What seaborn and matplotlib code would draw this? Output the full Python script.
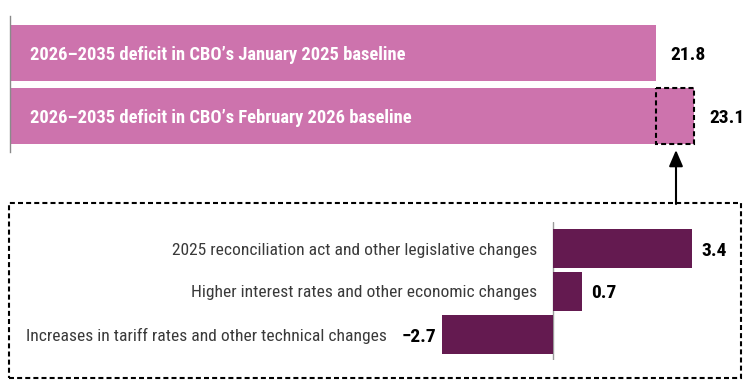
import matplotlib
matplotlib.use("Agg")
import matplotlib.pyplot as plt
from matplotlib.patches import Rectangle, FancyArrowPatch
import seaborn as sns
import pandas as pd

# ---- data ----
top_labels = ["2026\u20132035 deficit in CBO\u2019s January 2025 baseline",
              "2026\u20132035 deficit in CBO\u2019s February 2026 baseline"]
top_values = [21.8, 23.1]
top_value_text = ["21.8", "23.1"]

bot_labels = ["2025 reconciliation act and other legislative changes",
              "Higher interest rates and other economic changes",
              "Increases in tariff rates and other technical changes"]
bot_values = [3.4, 0.7, -2.7]
bot_value_text = ["3.4", "0.7", "\u22122.7"]

PINK = "#CD73AD"
PURPLE = "#641A50"

sns.set_style("white")
plt.rcParams["font.family"] = ["Roboto Condensed", "DejaVu Sans"]

W, H = 750, 389
fig = plt.figure(figsize=(W / 100, H / 100), dpi=100)


def fr(x0, y0, x1, y1):
    return [x0 / W, 1 - y1 / H, (x1 - x0) / W, (y1 - y0) / H]


FS_IN = 13.3    # in-bar labels
FS_LAB = 12.6   # category labels
FS_VAL = 14     # value labels

# ---- top panel ----
df_top = pd.DataFrame({"label": top_labels, "value": top_values})
ax_top = fig.add_axes(fr(10, 16, 750, 152))
sns.barplot(data=df_top, x="value", y="label", ax=ax_top, color=PINK,
            saturation=1, width=0.89, linewidth=0)
ax_top.set_xlim(0, 740 / 29.62)
ax_top.set_ylim(1 + 36 / 63, -37 / 63)
for i, (lab, v, t) in enumerate(zip(top_labels, top_values, top_value_text)):
    ax_top.annotate(lab, xy=(0, i), xytext=(20, 0), textcoords="offset pixels",
                    ha="left", va="center_baseline", color="white", fontweight="bold",
                    fontsize=FS_IN)
    ax_top.annotate(t, xy=(v, i), xytext=(15, 0), textcoords="offset pixels",
                    ha="left", va="center_baseline", color="black", fontweight="bold",
                    fontsize=FS_VAL)
# dashed highlight box for the increase
ax_top.add_patch(Rectangle((top_values[0], 1 - 0.445), top_values[1] - top_values[0], 0.89,
                           fill=False, ec="black", lw=1.5, ls=(0, (2.4, 1.5)), zorder=5))

# ---- bottom panel ----
df_bot = pd.DataFrame({"label": bot_labels, "value": bot_values})
ax_bot = fig.add_axes(fr(10, 222, 740, 360))
sns.barplot(data=df_bot, x="value", y="label", ax=ax_bot, color=PURPLE,
            saturation=1, width=0.907, linewidth=0)
ax_bot.set_xlim(-543 / 41, 187 / 41)
ax_bot.set_ylim(2 + 25.5 / 43, -26.5 / 43)
ax_bot.axvline(0, color="#9a9a9a", lw=1, zorder=0)
for i, (lab, v, t) in enumerate(zip(bot_labels, bot_values, bot_value_text)):
    if v >= 0:
        ax_bot.annotate(t, xy=(v, i), xytext=(9, 0), textcoords="offset pixels",
                        ha="left", va="center_baseline", color="black", fontweight="bold",
                        fontsize=FS_VAL)
        ax_bot.annotate(lab, xy=(0, i), xytext=(-16, 0), textcoords="offset pixels",
                        ha="right", va="center_baseline", color="#3a3a3a", fontsize=FS_LAB)
    else:
        ax_bot.annotate(t, xy=(v, i), xytext=(-6, 0), textcoords="offset pixels",
                        ha="right", va="center_baseline", color="black", fontweight="bold",
                        fontsize=FS_VAL)
        ax_bot.annotate(lab, xy=(v, i), xytext=(-55, 0), textcoords="offset pixels",
                        ha="right", va="center_baseline", color="#3a3a3a", fontsize=FS_LAB)

for ax in (ax_top, ax_bot):
    ax.set_xlabel("")
    ax.set_ylabel("")
    ax.set_xticks([])
    ax.set_yticks([])
    for s in ax.spines.values():
        s.set_visible(False)
    ax.patch.set_alpha(0)
ax_top.spines["left"].set_visible(True)
ax_top.spines["left"].set_color("#8a8a8a")
ax_top.spines["left"].set_linewidth(1)

# bottom dashed frame
fig.add_artist(Rectangle((9 / W, 1 - 378 / H), 732 / W, 175 / H,
                         transform=fig.transFigure, fill=False, ec="black",
                         lw=1.5, ls=(0, (2.4, 1.5))))
# arrow
fig.add_artist(FancyArrowPatch((676 / W, 1 - 204 / H), (676 / W, 1 - 150 / H),
                               transform=fig.transFigure,
                               arrowstyle="-|>,head_length=0.7,head_width=0.3",
                               mutation_scale=14, color="black", lw=1.5,
                               shrinkA=0, shrinkB=0))

fig.savefig("out.png", dpi=100)
